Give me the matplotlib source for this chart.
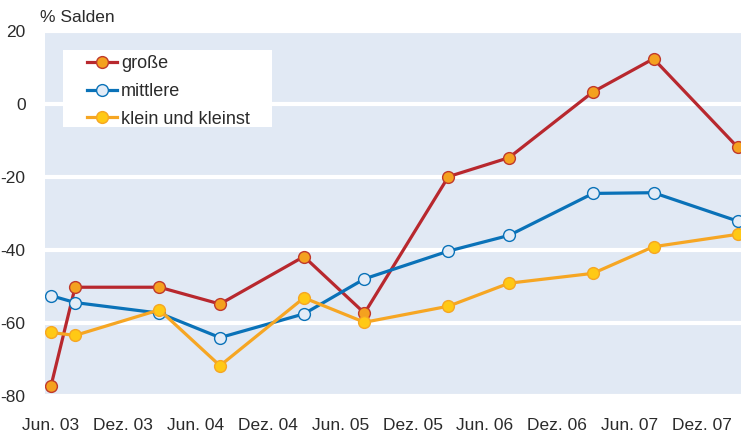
import pandas as pd
import matplotlib
matplotlib.use("Agg")
import matplotlib.pyplot as plt
from matplotlib.patches import Rectangle

plt.rcParams['font.family'] = ['Liberation Sans', 'DejaVu Sans']

# survey dates (first of month)
dates = pd.to_datetime(["2003-06-01", "2003-08-01", "2004-03-01", "2004-08-01",
                        "2005-03-01", "2005-08-01", "2006-03-01", "2006-08-01",
                        "2007-03-01", "2007-08-01", "2008-03-01"])

grosse = [-77.3, -50.2, -50.2, -54.8, -41.8, -57.3, -19.9, -14.7, 3.3, 12.4, -11.9]
mittlere = [-52.5, -54.4, -57.3, -64.0, -57.5, -47.9, -40.3, -36.0, -24.5, -24.3, -32.1]
klein = [-62.6, -63.4, -56.4, -71.7, -53.1, -59.8, -55.4, -49.1, -46.4, -39.1, -35.7]

tick_dates = pd.to_datetime(["2003-06-01", "2003-12-01", "2004-06-01", "2004-12-01",
                             "2005-06-01", "2005-12-01", "2006-06-01", "2006-12-01",
                             "2007-06-01", "2007-12-01"])
tick_labels = ["Jun. 03", "Dez. 03", "Jun. 04", "Dez. 04", "Jun. 05",
               "Dez. 05", "Jun. 06", "Dez. 06", "Jun. 07", "Dez. 07"]
y_ticks = [20, 0, -20, -40, -60, -80]

text_col = "#2b2b2b"
W, H = 741, 432

fig = plt.figure(figsize=(7.41, 4.32), dpi=100)
ax = fig.add_axes([45 / W, 1 - 396 / H, 1 - 45 / W, (396 - 31) / H])
ax.set_facecolor("#e1e9f4")

ax.plot(dates, grosse, color="#b8282e", lw=2.3, marker="o", ms=8.5,
        mfc="#f4a11f", mec="#c0392b", mew=1.0, label="große", zorder=3)
ax.plot(dates, mittlere, color="#0a72b8", lw=2.3, marker="o", ms=8.5,
        mfc="#e3ecf7", mec="#0a72b8", mew=1.0, label="mittlere", zorder=3)
ax.plot(dates, klein, color="#f6a623", lw=2.3, marker="o", ms=8.5,
        mfc="#ffc915", mec="#f6a623", mew=1.0, label="klein und kleinst", zorder=3)

ax.set_ylim(-80, 20)
ax.set_xlim(pd.Timestamp("2003-05-17"), pd.Timestamp("2008-03-09"))
ax.set_yticks(y_ticks)
ax.set_yticklabels([str(v) for v in y_ticks])
ax.set_xticks(tick_dates)
ax.set_xticklabels(tick_labels)
ax.tick_params(length=0, labelsize=12.5, colors=text_col)
ax.tick_params(axis="y", pad=14)
ax.tick_params(axis="x", pad=16)

# white horizontal grid only
ax.yaxis.grid(True, color="white", lw=3)
ax.xaxis.grid(False)
ax.set_axisbelow(True)
for s in ax.spines.values():
    s.set_visible(False)

fig.text(40 / W, 1 - 17 / H, "% Salden", fontsize=12.5, color=text_col, va="center")

# white legend box
box = Rectangle((63 / W, 1 - 127 / H), (272 - 63) / W, (127 - 50) / H,
                transform=fig.transFigure, facecolor="white", edgecolor="none",
                zorder=4)
fig.patches.append(box)

leg = fig.legend(loc="upper left", bbox_to_anchor=(87 / W, 1 - 55 / H),
                 frameon=False, fontsize=13, handlelength=1.67,
                 borderpad=0, labelspacing=0.6, borderaxespad=0,
                 handletextpad=0.2)
for t in leg.get_texts():
    t.set_color(text_col)
leg.set_zorder(5)

fig.savefig("out.png", dpi=100)
